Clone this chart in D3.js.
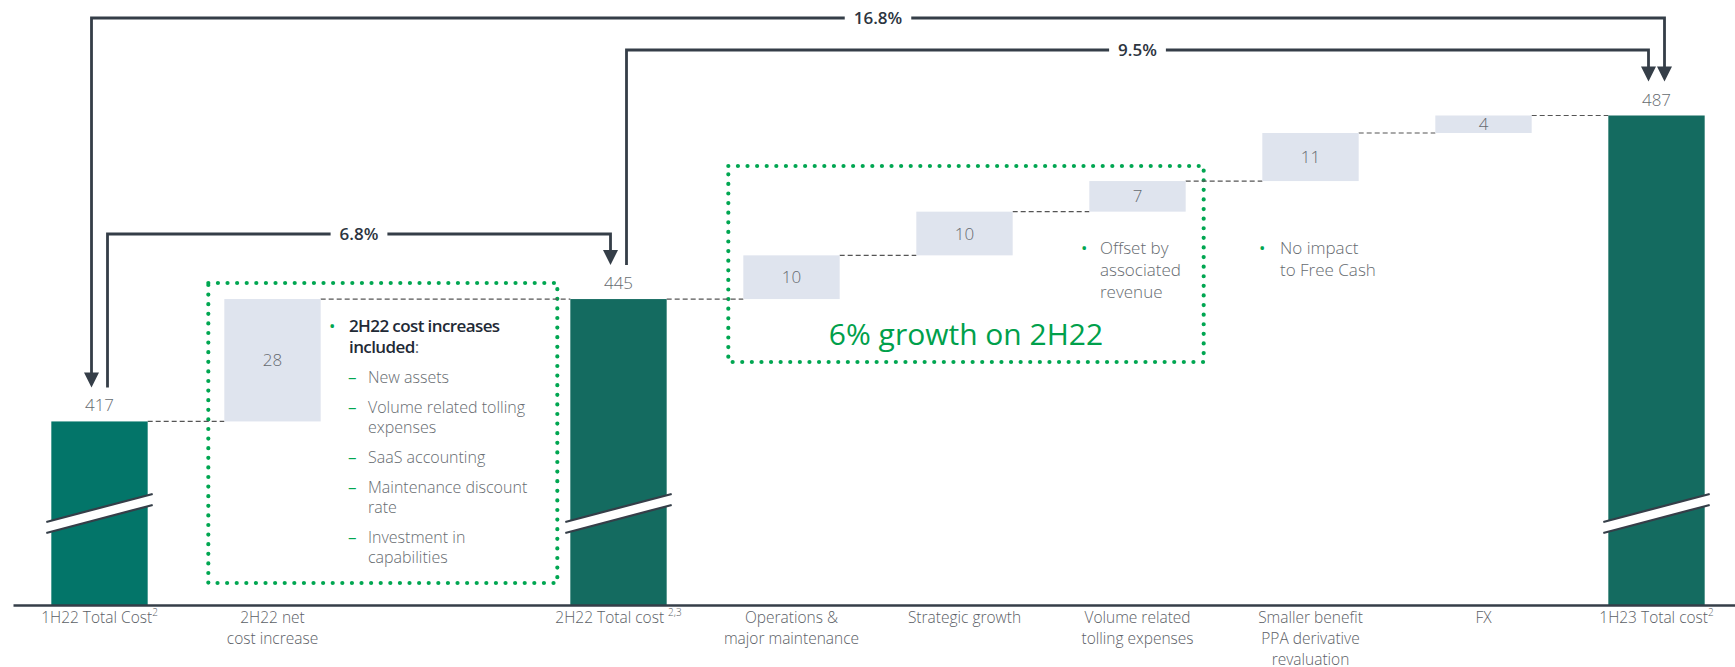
<!DOCTYPE html>
<html>
<head>
<meta charset="utf-8">
<script src="https://cdn.jsdelivr.net/npm/d3@7"></script>
<style>
  body { margin: 0; background: #fff; }
  svg { display: block; font-family: "Open Sans", sans-serif; }
</style>
</head>
<body>
<svg id="chart" width="1735" height="667"></svg>
<script>
// chart data
var categories = ["1H22 Total Cost", "2H22 net\ncost increase", "", "2H22 Total cost ", "Operations &\nmajor maintenance",
  "Strategic growth", "Volume related\ntolling expenses", "Smaller benefit\nPPA derivative\nrevaluation", "FX", "1H23 Total cost"];
var notes = ["2", "", "", "2,3", "", "", "", "", "", "2"];
var kinds = ["total", "delta", "gap", "total", "delta", "delta", "delta", "delta", "delta", "total"];
var values = [417, 28, null, 445, 10, 10, 7, 11, 4, 487];
var axisBase = 375;
var brackets = [
  { from: 0, to: 9, label: "16.8%" },
  { from: 3, to: 9, label: "9.5%" },
  { from: 0, to: 3, label: "6.8%" }
];
var costNotes = ["New assets", "Volume related tolling\nexpenses", "SaaS accounting", "Maintenance discount\nrate", "Investment in\ncapabilities"];

var svg = d3.select("#chart");
var ink = "#353e48", grey = "#666b70", green = "#00a651";

var x = d3.scaleBand().domain(d3.range(categories.length)).range([13, 1743])
  .paddingInner(0.443).paddingOuter(0.2215);
var y = d3.scaleLinear().domain([axisBase, 487]).range([605, 115.5]);
var bw = x.bandwidth();
var cx = function(i) { return x(i) + bw / 2; };

// running totals
var rows = [], run = axisBase;
values.forEach(function(v, i) {
  if (kinds[i] === "gap") return;
  if (kinds[i] === "total") { rows.push({ i: i, kind: "total", v: v, lo: axisBase, hi: v }); run = v; }
  else { rows.push({ i: i, kind: "delta", v: v, lo: run, hi: run + v }); run += v; }
});

// dotted green boxes
var dotted = function(x0, y0, x1, y1) {
  svg.append("rect").attr("x", x0).attr("y", y0).attr("width", x1 - x0).attr("height", y1 - y0)
    .attr("fill", "none").attr("stroke", green).attr("stroke-width", 4.2)
    .attr("stroke-linecap", "round").attr("stroke-dasharray", "0 9.6");
};
dotted(x(1) - 16, 283, x(3) - 13, 583);
dotted(x(4) - 15, 166, x(6) + bw + 18, 362);

// connectors
for (var k = 0; k < rows.length - 1; k++) {
  var a = rows[k], b = rows[k + 1];
  svg.append("line").attr("x1", x(a.i) + bw).attr("x2", x(b.i)).attr("y1", y(a.hi)).attr("y2", y(a.hi))
    .attr("stroke", "#555").attr("stroke-width", 1.2).attr("stroke-dasharray", "5,3");
}

// bars
svg.selectAll("rect.bar").data(rows).enter().append("rect").attr("class", "bar")
  .attr("x", function(d) { return x(d.i); })
  .attr("width", bw)
  .attr("y", function(d) { return y(d.hi); })
  .attr("height", function(d) { return y(d.lo) - y(d.hi); })
  .attr("fill", function(d) { return d.kind === "delta" ? "#dfe4ee" : (d.i === 0 ? "#037569" : "#146b60"); });

svg.selectAll("text.val").data(rows).enter().append("text").attr("class", "val")
  .attr("x", function(d) { return cx(d.i); })
  .attr("y", function(d) { return d.kind === "total" ? y(d.hi) - 10 : (y(d.hi) + y(d.lo)) / 2 + 6; })
  .attr("text-anchor", "middle").attr("font-size", 17).attr("font-weight", 300).attr("fill", grey)
  .text(function(d) { return d.v; });

// axis breaks
rows.filter(function(d) { return d.kind === "total"; }).forEach(function(d) {
  var xl = x(d.i) - 5, xr = x(d.i) + bw + 5, yl = y(394), rise = 28, gap = 11;
  svg.append("path").attr("d", "M" + xl + "," + yl + "L" + xr + "," + (yl - rise) + "L" + xr + "," + (yl - rise + gap) + "L" + xl + "," + (yl + gap) + "Z")
    .attr("fill", "#fff");
  [0, gap].forEach(function(o) {
    svg.append("line").attr("x1", xl).attr("y1", yl + o).attr("x2", xr).attr("y2", yl - rise + o)
      .attr("stroke", ink).attr("stroke-width", 2.2);
  });
});

// x axis
var gx = svg.append("g").attr("transform", "translate(0,605)")
  .call(d3.axisBottom(x).tickSize(0).tickFormat(""))
  .attr("font-family", "'Open Sans', sans-serif");
gx.select(".domain").attr("stroke", ink).attr("stroke-width", 2.5);
gx.selectAll(".tick text").remove();
gx.selectAll(".tick").each(function(i) {
  var lines = categories[i].split("\n");
  var t = d3.select(this).append("text").attr("text-anchor", "middle").attr("font-size", 15.5)
    .attr("font-family", "'Open Sans', sans-serif")
    .attr("font-weight", 300).attr("fill", "#5b6066");
  lines.forEach(function(s, j) {
    t.append("tspan").attr("x", 0).attr("y", 18 + j * 21).text(s);
    if (j === lines.length - 1 && notes[i]) {
      t.append("tspan").attr("font-size", 10).attr("dy", -7).text(notes[i]);
    }
  });
});

// growth brackets
var bracketLayout = [
  { y: 18, dx0: -8, dx1: 8, arrowStart: true },
  { y: 50, dx0: 8, dx1: -8, arrowStart: false },
  { y: 234, dx0: 8, dx1: -8, arrowStart: false }
];
var arrowHead = function(ax, tip) {
  svg.append("path").attr("d", "M" + (ax - 7.5) + "," + (tip - 15) + "L" + (ax + 7.5) + "," + (tip - 15) + "L" + ax + "," + tip + "Z")
    .attr("fill", ink);
};
brackets.forEach(function(br, n) {
  var L = bracketLayout[n];
  var x0 = cx(br.from) + L.dx0, x1 = cx(br.to) + L.dx1;
  var t0 = y(values[br.from]) - 34, t1 = y(values[br.to]) - 34;
  var e0 = L.arrowStart ? t0 - 14 : t0, e1 = t1 - 14;
  svg.append("path").attr("d", "M" + x0 + "," + e0 + "V" + L.y + "H" + x1 + "V" + e1)
    .attr("fill", "none").attr("stroke", ink).attr("stroke-width", 2.8);
  if (L.arrowStart) arrowHead(x0, t0);
  arrowHead(x1, t1);
  var mx = (x0 + x1) / 2;
  var lbl = svg.append("text").attr("x", mx).attr("y", L.y + 6).attr("text-anchor", "middle")
    .attr("font-size", 17).attr("font-weight", 600).attr("fill", "#2d353f").text(br.label);
  var w = lbl.node().getComputedTextLength();
  svg.insert("rect", function() { return lbl.node(); })
    .attr("x", mx - w / 2 - 9).attr("y", L.y - 6).attr("width", w + 18).attr("height", 12).attr("fill", "#fff");
});

// annotations
var bullet = function(bx, by) {
  svg.append("text").attr("x", bx).attr("y", by).attr("font-size", 17).attr("fill", green).text("•");
};
bullet(329, 332);
var hd = svg.append("text").attr("x", 349).attr("y", 332).attr("font-size", 17).attr("fill", "#1f2a36")
  .attr("letter-spacing", -0.6);
hd.append("tspan").attr("font-weight", 600).text("2H22 cost increases");
var hd2 = svg.append("text").attr("x", 349).attr("y", 353).attr("font-size", 17).attr("fill", "#1f2a36")
  .attr("letter-spacing", -0.6);
hd2.append("tspan").attr("font-weight", 600).text("included");
hd2.append("tspan").attr("fill", grey).text(":");

var ly = 383;
costNotes.forEach(function(s) {
  svg.append("text").attr("x", 348).attr("y", ly).attr("font-size", 17).attr("fill", green).text("–");
  s.split("\n").forEach(function(line, j) {
    svg.append("text").attr("x", 368).attr("y", ly + j * 20).attr("font-size", 16)
      .attr("font-weight", 300).attr("fill", grey).text(line);
  });
  ly += s.indexOf("\n") >= 0 ? 50 : 30;
});

bullet(1081, 254);
["Offset by", "associated", "revenue"].forEach(function(s, j) {
  svg.append("text").attr("x", 1100).attr("y", 254 + j * 22).attr("font-size", 17)
    .attr("font-weight", 300).attr("fill", grey).text(s);
});
bullet(1259, 254);
["No impact", "to Free Cash"].forEach(function(s, j) {
  svg.append("text").attr("x", 1280).attr("y", 254 + j * 22).attr("font-size", 17)
    .attr("font-weight", 300).attr("fill", grey).text(s);
});

svg.append("text").attr("x", (x(4) - 15 + x(6) + bw + 18) / 2).attr("y", 345).attr("text-anchor", "middle")
  .attr("font-size", 30).attr("fill", "#00a04b").text("6% growth on 2H22");
</script>
</body>
</html>
